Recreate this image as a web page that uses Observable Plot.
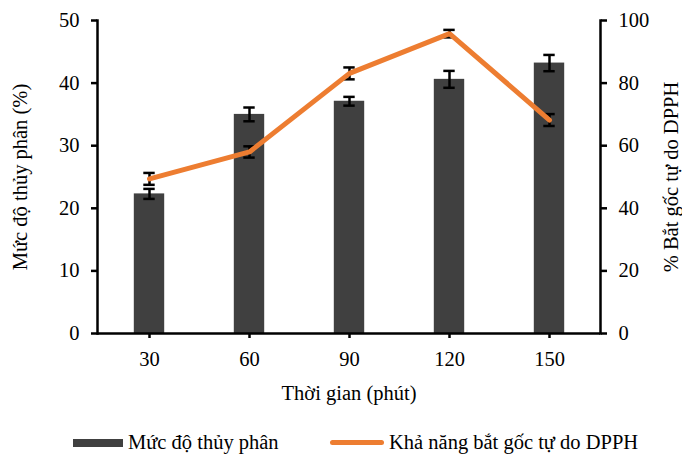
<!DOCTYPE html>
<html><head><meta charset="utf-8">
<script src="https://cdn.jsdelivr.net/npm/d3@7"></script>
<script src="https://cdn.jsdelivr.net/npm/@observablehq/plot@0.6"></script>
<style>
body{margin:0;background:#fff;font-family:"Liberation Serif","Times New Roman",serif;}
#wrap{position:relative;width:682px;height:455px;overflow:hidden;}
.lg{position:absolute;font-size:20.5px;color:#000;white-space:nowrap;line-height:22px;}
</style>
</head><body><div id="wrap"><div id="chart"></div>
<div class="lg" style="left:73px;top:439px;width:50px;height:8px;background:#404040"></div>
<div class="lg" style="left:128px;top:431px">Mức độ thủy phân</div>
<div class="lg" style="left:330px;top:440px;width:54px;height:5px;background:#ED7D31;border-radius:3px"></div>
<div class="lg" style="left:389px;top:431px">Khả năng bắt gốc tự do DPPH</div>
</div>
<script>
const times = ["30", "60", "90", "120", "150"];
const hydrolysis = [22.3, 35.0, 37.1, 40.6, 43.2];
const hydrolysisErr = [0.8, 1.1, 0.7, 1.35, 1.3];
const dpph = [49.4, 58.0, 83.1, 95.8, 68.2];
const dpphErr = [1.9, 1.8, 1.9, 1.2, 1.9];
const leftTicks = [0, 10, 20, 30, 40, 50];
const rightTicks = [0, 20, 40, 60, 80, 100];
const xTitle = "Thời gian (phút)";
const leftTitle = "Mức độ thủy phân (%)";
const rightTitle = "% Bắt gốc tự do DPPH";

const ratio = 2; // right axis (0-100) mapped onto left axis (0-50)
const rows = times.map((t, i) => ({
  t, h: hydrolysis[i], he: hydrolysisErr[i],
  d: dpph[i] / ratio, de: dpphErr[i] / ratio
}));

const W = 682, H = 415;
const mL = 97, mR = 82, mT = 20, mB = H - 333;
const band = (W - mL - mR) / times.length;
const barInset = (band - 31) / 2;
const capInset = (band - 12) / 2;
const FS = 20.5;

const chart = Plot.plot({
  width: W, height: H,
  marginLeft: mL, marginRight: mR, marginTop: mT, marginBottom: mB,
  style: {fontFamily: "Liberation Serif, Times New Roman, serif", fontSize: FS + "px", color: "#000", background: "#fff"},
  x: {domain: times, padding: 0, axis: null},
  y: {domain: [0, 50], axis: null},
  marks: [
    Plot.barY(rows, {x: "t", y: "h", fill: "#404040", insetLeft: barInset, insetRight: barInset}),
    Plot.ruleX(rows, {x: "t", y1: d => d.h - d.he, y2: d => d.h + d.he, stroke: "#000", strokeWidth: 2.5}),
    Plot.tickY(rows, {x: "t", y: d => d.h - d.he, stroke: "#000", strokeWidth: 2.5, insetLeft: capInset, insetRight: capInset}),
    Plot.tickY(rows, {x: "t", y: d => d.h + d.he, stroke: "#000", strokeWidth: 2.5, insetLeft: capInset, insetRight: capInset}),
    Plot.ruleX(rows, {x: "t", y1: d => d.d - d.de, y2: d => d.d + d.de, stroke: "#000", strokeWidth: 2.5}),
    Plot.tickY(rows, {x: "t", y: d => d.d - d.de, stroke: "#000", strokeWidth: 2.5, insetLeft: capInset, insetRight: capInset}),
    Plot.tickY(rows, {x: "t", y: d => d.d + d.de, stroke: "#000", strokeWidth: 2.5, insetLeft: capInset, insetRight: capInset}),
    Plot.line(rows, {x: "t", y: "d", stroke: "#ED7D31", strokeWidth: 5, strokeLinejoin: "miter", strokeLinecap: "round"}),
    Plot.axisY({anchor: "left", ticks: leftTicks, tickSize: 6, tickPadding: 12, tickFormat: d => d, label: null, strokeWidth: 2.5, fontSize: FS}),
    Plot.axisY({anchor: "right", ticks: rightTicks.map(v => v / ratio), tickSize: 6, tickPadding: 12, tickFormat: d => d * ratio, label: null, strokeWidth: 2.5, fontSize: FS}),
    Plot.axisX({anchor: "bottom", tickSize: 5, tickPadding: 13, label: null, strokeWidth: 2.5, fontSize: FS}),
    Plot.frame({anchor: "left", stroke: "#000", strokeWidth: 2.5}),
    Plot.frame({anchor: "right", stroke: "#000", strokeWidth: 2.5}),
    Plot.ruleY([0], {stroke: "#000", strokeWidth: 2.5}),
    Plot.text([xTitle], {frameAnchor: "bottom", dy: 66, fontSize: FS}),
    Plot.text([leftTitle], {frameAnchor: "left", textAnchor: "middle", dx: -77, rotate: -90, fontSize: FS}),
    Plot.text([rightTitle], {frameAnchor: "right", textAnchor: "middle", dx: 71, rotate: -90, fontSize: FS})
  ]
});
document.getElementById("chart").append(chart);
</script>
</body></html>
